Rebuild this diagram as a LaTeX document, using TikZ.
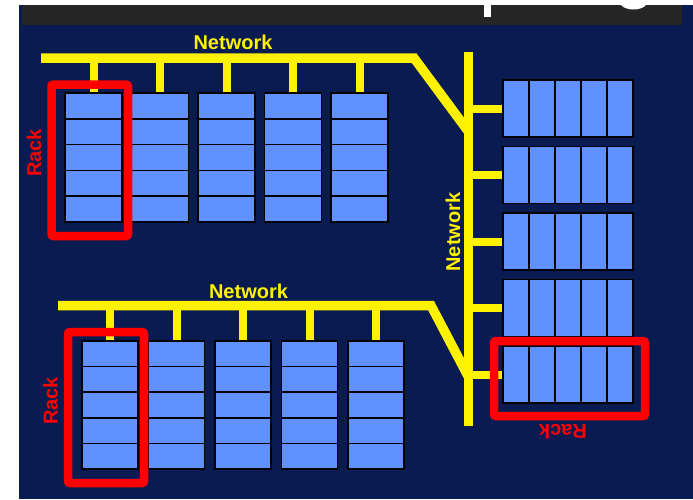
\documentclass[tikz,border=0pt]{standalone}
\usepackage{fontspec}
\setmainfont{Liberation Sans}
\definecolor{navy}{HTML}{0A1B52}
\definecolor{rackblue}{HTML}{6190FF}
\definecolor{bargray}{HTML}{262626}
\begin{document}
\begin{tikzpicture}[x=1pt,y=-1pt,
  net/.style={yellow, line width=9.5pt},
  drop/.style={yellow, line width=8pt},
  cell/.style={fill=rackblue, draw=black, line width=1.5pt},
  redbox/.style={draw=red, line width=8.5pt, rounded corners=2pt},
  lbl/.style={font=\bfseries\fontsize{20}{24}\selectfont, inner sep=0pt}]
\useasboundingbox (0,0) rectangle (693,499);
\fill[white] (0,0) rectangle (693,499);
\fill[navy] (19,5) rectangle (693,499);
\fill[bargray] (22,5) rectangle (682,25);
% fragments of cut-off title
\fill[white] (484,5) rectangle (491,17);
\fill[white] (621,5) .. controls (626,11) and (641,11) .. (646,5) -- cycle;

% network bars
\draw[net, line join=miter] (41,58) -- (414,58) -- (468,131);
\draw[net, line join=miter] (58,305.5) -- (431,305.5) -- (468,376);
\draw[net] (468.5,52) -- (468.5,426);

% top-left racks
\foreach \i in {0,...,4}{
  \pgfmathsetmacro{\xa}{65+66.5*\i}
  \draw[drop] (\xa+28.5,58) -- (\xa+28.5,94);
  \foreach \r in {0,...,4}{
    \draw[cell] (\xa,93+25.8*\r) rectangle (\xa+57,93+25.8*\r+25.8);
  }
}
% bottom-left racks
\foreach \i in {0,...,4}{
  \pgfmathsetmacro{\xa}{82+66.5*\i}
  \draw[drop] (\xa+28,305.5) -- (\xa+28,342);
  \foreach \r in {0,...,4}{
    \draw[cell] (\xa,341+25.6*\r) rectangle (\xa+56,341+25.6*\r+25.6);
  }
}
% right racks
\foreach \i in {0,...,4}{
  \pgfmathsetmacro{\ya}{80+66.5*\i}
  \draw[drop] (468,\ya+28.5) -- (504,\ya+28.5);
  \foreach \c in {0,...,4}{
    \draw[cell] (503+26*\c,\ya) rectangle (503+26*\c+26,\ya+57);
  }
}

% red rack outlines
\draw[redbox] (51.5,84.5) rectangle (128,236);
\draw[redbox] (68,332) rectangle (144,483);
\draw[redbox] (494,341) rectangle (645,416);

% labels
\node[lbl, yellow] (net1) at (233,42) {Network};
\node[lbl, yellow] (net2) at (248.5,291) {Network};
\node[lbl, yellow, rotate=90] (net3) at (453,232) {Network};
\node[lbl, red, rotate=90] (rack1) at (34,153) {Rack};
\node[lbl, red, rotate=90] (rack2) at (50.5,401) {Rack};
\node[lbl, red, rotate=180] (rack3) at (563,432) {Rack};
\end{tikzpicture}
\end{document}
